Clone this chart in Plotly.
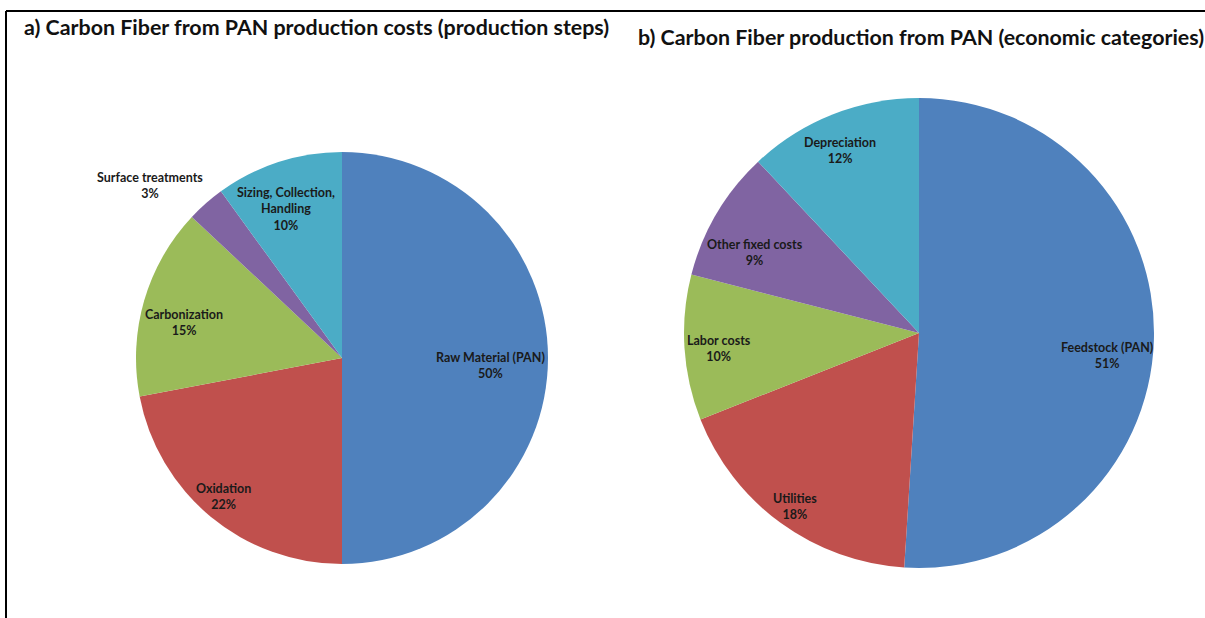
import math
import plotly.graph_objects as go

# Data
labels_a = ["Raw Material (PAN)", "Oxidation", "Carbonization", "Surface treatments", "Sizing, Collection,<br>Handling"]
values_a = [50, 22, 15, 3, 10]
labels_b = ["Feedstock (PAN)", "Utilities", "Labor costs", "Other fixed costs", "Depreciation"]
values_b = [51, 18, 10, 9, 12]

colors = ["#4F81BD", "#C0504D", "#9BBB59", "#8064A2", "#4BACC6"]
title_a = "a) Carbon Fiber from PAN production costs (production steps)"
title_b = "b) Carbon Fiber production from PAN (economic categories)"

# label placement style (fraction of radius along slice mid-angle, plus small nudges in px)
lab_r_a = [0.72, 0.885, 0.79, 1.08, 0.775]
lab_anchor_a = ["center", "center", "center", "right", "center"]
lab_nudge_a = [(0, -7), (-2, 2), (-2, -10), (10, 6), (-7, -3)]
lab_r_b = [0.80, 0.905, 0.86, 0.78, 0.85]
lab_anchor_b = ["center"] * 5
lab_nudge_b = [(0, -17), (1, -1), (2, -3), (-6, -13), (-5, -3)]

W, H = 1205, 618
dom_a = dict(x=[(342 - 206) / W, (342 + 206) / W], y=[1 - 564 / H, 1 - 152 / H])
dom_b = dict(x=[(919 - 235) / W, (919 + 235) / W], y=[1 - 568 / H, 1 - 98 / H])

font_lab = dict(family="Lato, Open Sans, sans-serif", size=12.5, color="#1a1a1a")

fig = go.Figure()
for labels, values, dom in [(labels_a, values_a, dom_a), (labels_b, values_b, dom_b)]:
    fig.add_trace(go.Pie(
        labels=labels, values=values, sort=False, direction="clockwise", rotation=0,
        marker=dict(colors=colors, line=dict(width=0)),
        textinfo="none", showlegend=False, hoverinfo="label+percent",
        domain=dom,
    ))


def add_labels(labels, values, dom, fracs, anchors, nudges):
    cx = (dom["x"][0] + dom["x"][1]) / 2
    cy = (dom["y"][0] + dom["y"][1]) / 2
    r = min((dom["x"][1] - dom["x"][0]) * W, (dom["y"][1] - dom["y"][0]) * H) / 2
    total = sum(values)
    cum = 0
    for lab, v, f, anc, (dx, dy) in zip(labels, values, fracs, anchors, nudges):
        mid = (cum + v / 2) / total * 2 * math.pi
        cum += v
        x = cx + f * r * math.sin(mid) / W
        y = cy + f * r * math.cos(mid) / H
        pct = round(v / total * 100)
        fig.add_annotation(text=f"<b>{lab}<br>{pct}%</b>", x=x, y=y, xref="paper", yref="paper",
                           xanchor=anc, yanchor="middle", showarrow=False, align="center",
                           xshift=dx, yshift=dy, font=font_lab)


add_labels(labels_a, values_a, dom_a, lab_r_a, lab_anchor_a, lab_nudge_a)
add_labels(labels_b, values_b, dom_b, lab_r_b, lab_anchor_b, lab_nudge_b)

title_font = dict(family="Lato, Open Sans, sans-serif", size=21.4, color="#111111")
fig.add_annotation(text="<b>" + title_a + "</b>", x=22 / W, y=1 - 27 / H, xref="paper", yref="paper",
                   xanchor="left", yanchor="middle", showarrow=False, font=title_font)
fig.add_annotation(text="<b>" + title_b + "</b>", x=636 / W, y=1 - 37 / H, xref="paper", yref="paper",
                   xanchor="left", yanchor="middle", showarrow=False, font=title_font)

fig.add_shape(type="line", xref="paper", yref="paper", x0=6 / W, x1=6 / W, y0=0, y1=1 - 11 / H,
              line=dict(color="black", width=2))
fig.add_shape(type="line", xref="paper", yref="paper", x0=6 / W, x1=1, y0=1 - 11 / H, y1=1 - 11 / H,
              line=dict(color="black", width=2))

fig.update_layout(width=W, height=H, margin=dict(l=0, r=0, t=0, b=0),
                  paper_bgcolor="white", plot_bgcolor="white")
fig.write_html("out.html", config={"displayModeBar": False},
               post_script="document.body.style.margin='0';document.body.style.overflow='hidden';")
